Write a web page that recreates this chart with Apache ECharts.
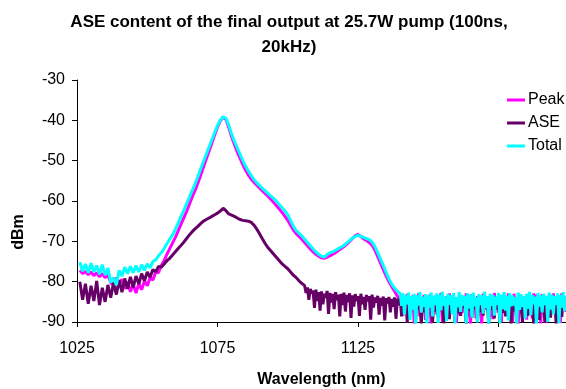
<!DOCTYPE html>
<html>
<head>
<meta charset="utf-8">
<script src="https://cdn.jsdelivr.net/npm/echarts@6/dist/echarts.min.js"></script>
<style>html,body{margin:0;padding:0;background:#fff;}#c{width:566px;height:389px;}</style>
</head>
<body>
<div id="c"></div>
<script>
const titleText = "ASE content of the final output at 25.7W pump (100ns,\n20kHz)";
const xName = "Wavelength (nm)";
const yName = "dBm";
const seriesNames = ["Peak", "ASE", "Total"];
const seriesColors = ["#FF00FF", "#660066", "#00FFFF"];

// sampling positions (nm): 1 nm steps, then 0.5 nm steps in the noisy tail
const wavelengths = [
1026,1027,1028,1029,1030,1031,1032,1033,1034,1035,
1036,1037,1038,1039,1040,1041,1042,1043,1044,1045,
1046,1047,1048,1049,1050,1051,1052,1053,1054,1055,
1056,1057,1058,1059,1060,1061,1062,1063,1064,1065,
1066,1067,1068,1069,1070,1071,1072,1073,1074,1075,
1076,1077,1078,1079,1080,1081,1082,1083,1084,1085,
1086,1087,1088,1089,1090,1091,1092,1093,1094,1095,
1096,1097,1098,1099,1100,1101,1102,1103,1104,1105,
1105.5,1106,1106.5,1107,1107.5,1108,1108.5,1109,1109.5,1110,
1110.5,1111,1111.5,1112,1112.5,1113,1113.5,1114,1114.5,1115,
1115.5,1116,1116.5,1117,1117.5,1118,1118.5,1119,1119.5,1120,
1120.5,1121,1121.5,1122,1122.5,1123,1123.5,1124,1124.5,1125,
1125.5,1126,1126.5,1127,1127.5,1128,1128.5,1129,1129.5,1130,
1130.5,1131,1131.5,1132,1132.5,1133,1133.5,1134,1134.5,1135,
1135.5,1136,1136.5,1137,1137.5,1138,1138.5,1139,1139.5,1140,
1140.5,1141,1141.5,1142,1142.5,1143,1143.5,1144,1144.5,1145,
1145.5,1146,1146.5,1147,1147.5,1148,1148.5,1149,1149.5,1150,
1150.5,1151,1151.5,1152,1152.5,1153,1153.5,1154,1154.5,1155,
1155.5,1156,1156.5,1157,1157.5,1158,1158.5,1159,1159.5,1160,
1160.5,1161,1161.5,1162,1162.5,1163,1163.5,1164,1164.5,1165,
1165.5,1166,1166.5,1167,1167.5,1168,1168.5,1169,1169.5,1170,
1170.5,1171,1171.5,1172,1172.5,1173,1173.5,1174,1174.5,1175,
1175.5,1176,1176.5,1177,1177.5,1178,1178.5,1179,1179.5,1180,
1180.5,1181,1181.5,1182,1182.5,1183,1183.5,1184,1184.5,1185,
1185.5,1186,1186.5,1187,1187.5,1188,1188.5,1189,1189.5,1190,
1190.5,1191,1191.5,1192,1192.5,1193,1193.5,1194,1194.5,1195,
1195.5,1196,1196.5,1197,1197.5,1198,1198.5,1199];

const peak = [
-77.2,-78.0,-77.5,-78.3,-77.6,-78.5,-77.8,-78.8,-78.0,-79.0,
-78.4,-80.2,-81.0,-79.0,-80.5,-79.4,-81.8,-80.0,-82.5,-80.6,
-82.8,-80.5,-82.0,-79.8,-81.0,-79.0,-79.6,-77.6,-77.8,-76.0,
-74.8,-73.2,-71.8,-70.4,-69.0,-67.4,-65.8,-64.2,-62.6,-60.8,
-59.0,-57.4,-55.6,-53.6,-51.6,-49.6,-47.6,-45.6,-43.6,-41.7,
-40.1,-39.2,-39.8,-41.8,-44.0,-46.0,-47.8,-49.4,-51.0,-52.4,
-53.6,-54.6,-55.4,-56.1,-56.8,-57.5,-58.2,-58.9,-59.6,-60.4,
-61.2,-62.0,-62.9,-63.8,-64.8,-66.0,-67.2,-68.1,-68.8,-69.5,
-69.9,-70.3,-70.7,-71.1,-71.5,-71.9,-72.3,-72.6,-72.9,-73.2,
-73.5,-73.7,-73.9,-74.1,-74.2,-74.2,-74.1,-73.9,-73.8,-73.6,
-73.4,-73.2,-73.0,-72.8,-72.6,-72.3,-72.1,-71.8,-71.6,-71.3,
-71.0,-70.7,-70.4,-70.0,-69.7,-69.3,-69.0,-68.6,-68.4,-68.3,
-68.5,-68.8,-69.1,-69.4,-69.6,-69.8,-70.0,-70.3,-70.6,-71.0,
-71.6,-72.2,-73.0,-73.8,-74.6,-75.4,-76.2,-77.0,-77.8,-78.6,
-79.3,-80.0,-80.6,-81.2,-81.8,-82.4,-83.0,-83.6,-84.0,-84.5,
-85.0,-88.4,-84.6,-87.9,-83.0,-89.2,-84.0,-86.5,-83.4,-90.5,
-84.1,-87.0,-82.9,-88.6,-84.5,-86.2,-83.3,-89.5,-84.2,-87.6,
-83.2,-91.0,-84.0,-86.5,-83.5,-88.1,-84.4,-87.5,-82.8,-90.0,
-84.2,-86.9,-83.6,-89.0,-82.9,-87.2,-84.1,-86.8,-83.8,-90.2,
-84.6,-88.3,-83.3,-87.8,-84.0,-86.4,-82.9,-88.6,-84.3,-90.7,
-83.1,-86.2,-84.4,-89.1,-83.6,-87.4,-84.1,-90.8,-83.0,-86.9,
-83.6,-87.2,-84.1,-88.7,-83.9,-89.3,-82.8,-86.9,-84.2,-87.7,
-84.3,-90.0,-83.4,-87.4,-84.6,-86.6,-82.9,-88.8,-83.7,-90.1,
-83.0,-86.4,-84.5,-90.6,-83.2,-87.9,-84.0,-86.3,-83.6,-89.4,
-83.7,-87.6,-84.2,-89.1,-82.9,-86.5,-83.2,-88.2,-84.4,-90.4,
-83.1,-86.6,-84.0,-90.3,-83.5,-87.0,-84.3,-88.0,-82.9,-86.7,
-84.4,-88.4,-83.3,-90.2,-82.9,-86.8,-84.1,-87.5];

const ase = [
-80.0,-84.5,-80.5,-85.5,-81.0,-84.8,-79.8,-85.8,-81.5,-85.0,
-80.8,-84.0,-80.2,-83.2,-79.6,-82.6,-79.2,-81.8,-78.8,-81.4,
-78.6,-80.6,-78.0,-79.8,-77.6,-78.9,-77.0,-77.6,-76.2,-76.4,
-75.6,-74.8,-74.2,-73.4,-72.6,-71.8,-71.0,-70.2,-69.3,-68.4,
-67.6,-66.9,-66.3,-65.6,-65.0,-64.6,-64.2,-63.8,-63.4,-63.0,
-62.5,-61.8,-62.4,-63.2,-63.5,-63.8,-64.2,-64.6,-64.8,-64.9,
-65.0,-65.3,-66.0,-67.0,-68.2,-69.4,-70.6,-71.6,-72.4,-73.2,
-74.0,-74.8,-75.6,-76.2,-76.8,-77.6,-78.4,-79.0,-79.8,-80.4,
-80.8,-81.0,-82.8,-81.4,-84.5,-81.8,-83.0,-82.2,-86.5,-82.0,
-84.8,-82.6,-87.2,-82.4,-85.6,-83.0,-84.0,-82.3,-88.0,-82.8,
-85.2,-83.0,-86.8,-82.6,-84.6,-83.2,-88.6,-83.0,-85.8,-82.7,
-87.4,-83.3,-85.0,-82.9,-89.0,-83.4,-86.2,-83.1,-84.8,-83.6,
-88.5,-83.0,-85.6,-83.8,-87.0,-83.3,-84.9,-83.6,-89.4,-83.2,
-86.4,-83.9,-85.2,-83.5,-88.2,-84.0,-86.0,-83.7,-89.6,-84.1,
-85.4,-83.8,-87.6,-84.3,-86.2,-83.9,-89.2,-84.2,-85.8,-84.0,
-88.6,-84.4,-86.6,-83.7,-90.2,-84.8,-87.2,-84.1,-85.6,-85.0,
-89.4,-83.5,-86.8,-85.2,-90.6,-84.6,-87.6,-85.5,-88.9,-84.2,
-86.2,-85.0,-90.1,-84.8,-87.4,-85.6,-88.8,-83.4,-86.5,-85.1,
-90.4,-84.9,-87.1,-85.4,-89.3,-84.6,-86.9,-85.8,-90.2,-84.3,
-87.8,-85.2,-88.5,-83.8,-86.4,-85.5,-90.8,-84.7,-87.2,-85.3,
-89.0,-84.3,-86.7,-85.6,-90.0,-84.9,-87.5,-85.1,-88.4,-83.2,
-86.3,-85.4,-90.5,-84.6,-87.0,-85.7,-89.1,-84.2,-86.8,-85.0,
-90.3,-85.3,-87.7,-84.8,-88.6,-83.6,-86.5,-85.2,-90.7,-84.4,
-87.3,-85.8,-89.2,-84.5,-86.9,-85.4,-90.1,-84.2,-87.8,-85.0,
-88.4,-83.4,-86.6,-85.3,-90.6,-84.9,-87.4,-85.5,-89.5,-84.7,
-86.8,-85.6,-90.2,-84.3,-87.9,-85.2,-88.9,-83.9,-86.4,-85.1,
-90.5,-84.6,-87.5,-85.7,-88.7,-84.4,-86.9,-85.0];

const total = [
-75.2,-77.4,-75.6,-77.8,-75.4,-77.6,-76.0,-78.2,-75.8,-78.4,
-76.6,-80.2,-79.0,-80.8,-77.2,-78.6,-76.4,-78.0,-76.2,-77.8,
-76.0,-77.6,-75.8,-77.2,-75.6,-76.6,-75.0,-74.6,-73.6,-72.8,
-71.8,-70.6,-69.5,-68.4,-67.0,-65.5,-63.8,-62.3,-60.7,-59.0,
-57.4,-55.8,-54.0,-52.0,-50.2,-48.4,-46.6,-44.8,-43.0,-41.3,
-39.9,-39.1,-39.5,-41.2,-43.4,-45.2,-46.8,-48.4,-50.0,-51.4,
-52.6,-53.7,-54.7,-55.5,-56.2,-56.9,-57.5,-58.2,-58.8,-59.4,
-60.1,-60.9,-61.7,-62.5,-63.4,-64.8,-66.3,-67.3,-68.0,-68.7,
-69.1,-69.5,-69.9,-70.3,-70.7,-71.1,-71.5,-71.9,-72.3,-72.6,
-72.9,-73.2,-73.5,-73.7,-73.9,-73.9,-73.6,-73.3,-73.0,-72.8,
-72.7,-72.6,-72.4,-72.2,-72.0,-71.8,-71.6,-71.4,-71.2,-71.0,
-70.7,-70.4,-70.1,-69.8,-69.5,-69.2,-69.0,-68.8,-68.6,-68.5,
-68.6,-68.8,-68.9,-69.0,-69.1,-69.3,-69.4,-69.6,-69.9,-70.2,
-70.7,-71.3,-72.0,-72.8,-73.6,-74.4,-75.2,-76.0,-76.8,-77.7,
-78.5,-79.3,-80.0,-80.6,-81.1,-81.6,-82.0,-82.4,-82.7,-82.9,
-86.0,-82.9,-88.2,-83.4,-85.6,-82.7,-89.5,-83.6,-86.9,-83.0,
-90.6,-83.3,-85.9,-82.6,-87.7,-83.8,-86.2,-83.1,-91.0,-83.4,
-86.4,-82.7,-88.6,-83.5,-85.8,-82.9,-90.2,-83.2,-87.1,-82.5,
-86.0,-83.7,-89.8,-83.0,-85.7,-83.4,-88.0,-82.8,-90.7,-83.9,
-86.3,-82.6,-87.5,-83.3,-85.9,-83.5,-91.0,-82.9,-86.6,-83.2,
-88.9,-82.7,-86.1,-83.8,-90.1,-83.1,-85.8,-83.4,-87.9,-82.5,
-86.5,-83.6,-90.8,-83.0,-86.0,-83.3,-88.4,-83.7,-85.7,-82.8,
-90.3,-83.2,-86.8,-82.6,-87.2,-83.5,-89.6,-82.9,-86.1,-83.4,
-85.9,-83.8,-90.5,-82.7,-87.0,-83.1,-86.3,-83.6,-89.2,-83.0,
-86.7,-82.5,-88.3,-83.3,-85.6,-83.7,-90.9,-82.8,-86.2,-83.4,
-87.6,-83.0,-85.8,-83.5,-90.0,-82.7,-86.9,-83.2,-88.1,-83.6,
-85.7,-82.9,-90.4,-83.3,-86.4,-82.6,-87.3,-83.5];

const seriesValues = [peak, ase, total];
const FONT = "'Liberation Sans', Arial, Helvetica, sans-serif";

const chart = echarts.init(document.getElementById('c'), null, {renderer: 'canvas'});
chart.setOption({
  animation: false,
  backgroundColor: '#ffffff',
  title: {
    text: titleText,
    left: 284,
    textAlign: 'center',
    top: 5,
    textStyle: {fontFamily: FONT, fontSize: 17, fontWeight: 'bold', color: '#000', lineHeight: 25}
  },
  legend: {
    orient: 'vertical',
    left: 502,
    top: 87,
    itemWidth: 18,
    itemHeight: 3,
    itemGap: 7,
    icon: 'rect',
    textStyle: {fontFamily: FONT, fontSize: 16, color: '#000', padding: [0,0,0,-2]},
    data: seriesNames
  },
  grid: {left: 77, right: 0, top: 80, bottom: 67, containLabel: false, outerBoundsMode: 'none'},
  xAxis: {
    type: 'value',
    min: 1025, max: 1199, interval: 50,
    name: xName,
    nameLocation: 'middle',
    nameGap: 50,
    nameTextStyle: {fontFamily: FONT, fontSize: 16, fontWeight: 'bold', color: '#000'},
    axisLine: {lineStyle: {color: '#000', width: 1}},
    axisTick: {show: true, length: 5, lineStyle: {color: '#000'}},
    axisLabel: {fontFamily: FONT, fontSize: 16, color: '#000', margin: 19, showMaxLabel: false,
      formatter: v => String(v)},
    splitLine: {show: false}
  },
  yAxis: {
    type: 'value',
    min: -90, max: -30, interval: 10,
    axisLine: {show: true, lineStyle: {color: '#000', width: 1}},
    axisTick: {show: true, length: 5, lineStyle: {color: '#000'}},
    axisLabel: {fontFamily: FONT, fontSize: 16, color: '#000', margin: 12, formatter: v => String(v)},
    splitLine: {show: false}
  },
  graphic: [{
    type: 'text',
    x: 19, y: 232,
    rotation: Math.PI / 2,
    style: {text: yName, font: 'bold 16px ' + FONT, fill: '#000', align: 'center', verticalAlign: 'middle'}
  }],
  series: seriesNames.map((n, k) => ({
    name: n,
    type: 'line',
    showSymbol: false,
    symbol: 'none',
    clip: true,
    color: seriesColors[k],
    lineStyle: {color: seriesColors[k], width: 3},
    data: wavelengths.map((w, i) => [w, seriesValues[k][i]])
  }))
});
</script>
</body>
</html>
